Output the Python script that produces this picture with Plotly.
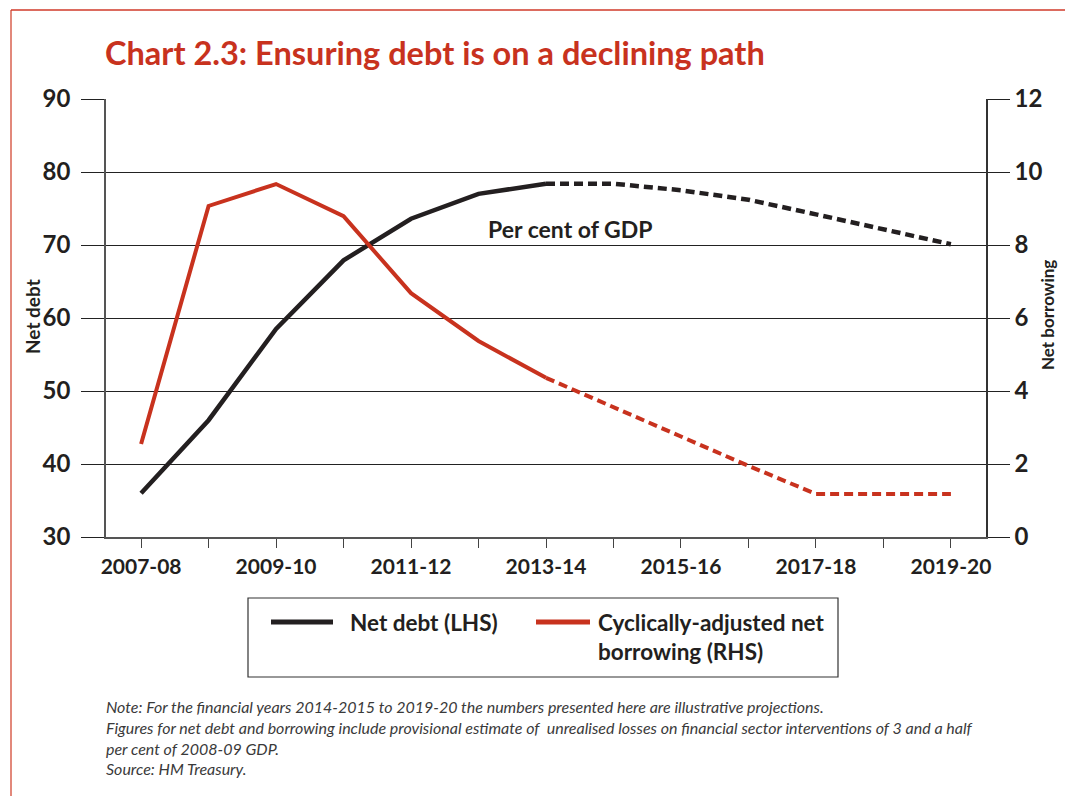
import plotly.graph_objects as go

# ---------------- data ----------------
years = ["2007-08", "2008-09", "2009-10", "2010-11", "2011-12", "2012-13", "2013-14",
         "2014-15", "2015-16", "2016-17", "2017-18", "2018-19", "2019-20"]
net_debt = [36.0, 46.0, 58.5, 67.9, 73.6, 77.0, 78.4, 78.4, 77.5, 76.2, 74.2, 72.2, 70.1]
net_borrowing = [2.55, 9.07, 9.67, 8.79, 6.68, 5.37, 4.36, 3.55, 2.75, 1.95, 1.18, 1.18, 1.18]
proj_start = 6  # projections (dashed) start after 2013-14
tick_labels = [y if i % 2 == 0 else "" for i, y in enumerate(years)]
left_ticks = [30, 40, 50, 60, 70, 80, 90]
right_ticks = [0, 2, 4, 6, 8, 10, 12]

BLACK = "#231f20"
RED = "#c8321e"
FONT = "Lato"

fig = go.Figure()
fig.add_trace(go.Scatter(x=years[:proj_start + 1], y=net_debt[:proj_start + 1], mode="lines",
                         line=dict(color=BLACK, width=4.5), showlegend=False))
fig.add_trace(go.Scatter(x=years[proj_start:], y=net_debt[proj_start:], mode="lines",
                         line=dict(color=BLACK, width=4.5, dash="9px,5px"), showlegend=False))
fig.add_trace(go.Scatter(x=years[:proj_start + 1], y=net_borrowing[:proj_start + 1], mode="lines",
                         line=dict(color=RED, width=4), showlegend=False, yaxis="y2"))
fig.add_trace(go.Scatter(x=years[proj_start:], y=net_borrowing[proj_start:], mode="lines",
                         line=dict(color=RED, width=4, dash="9px,5px"), showlegend=False, yaxis="y2"))

L, R, T, B = 106, 79, 99, 259
W, H = 1065, 796
PW, PH = W - L - R, H - T - B


def px(x):
    return (x - L) / PW


def py(y):
    return (H - B - y) / PH


fig.update_layout(
    width=W, height=H,
    margin=dict(l=L, r=R, t=T, b=B),
    paper_bgcolor="white", plot_bgcolor="white",
    font=dict(family=FONT, color=BLACK),
    xaxis=dict(type="category", range=[-0.52, 12.52], tickmode="array", tickvals=years,
               ticktext=tick_labels, ticks="outside", ticklen=9, tickwidth=1.2, tickcolor="#444",
               showline=True, linecolor="#555", linewidth=1.5, showgrid=False, zeroline=False,
               tickfont=dict(family=FONT, size=21, weight=700, color=BLACK), ticklabelstandoff=1),
    yaxis=dict(range=[30, 90], tickmode="array", tickvals=left_ticks, ticks="outside", ticklen=23,
               tickwidth=1.2, tickcolor="#222", showline=True, linecolor="#555", linewidth=1.5,
               showgrid=True, gridcolor="#222", gridwidth=1, zeroline=False,
               tickfont=dict(family=FONT, size=24, weight=700, color=BLACK), ticklabelstandoff=6),
    yaxis2=dict(range=[0, 12], tickmode="array", tickvals=right_ticks, overlaying="y", side="right",
                ticks="outside", ticklen=22, tickwidth=1.2, tickcolor="#222", showline=True,
                linecolor="#333", linewidth=1.5, showgrid=False, zeroline=False,
                tickfont=dict(family=FONT, size=24, weight=700, color=BLACK), ticklabelstandoff=0),
)

shapes = []
# outer red frame (left and top edges)
shapes.append(dict(type="line", xref="paper", yref="paper", x0=px(11), x1=px(11), y0=py(10), y1=py(800),
                   line=dict(color="#d9604f", width=1.5)))
shapes.append(dict(type="line", xref="paper", yref="paper", x0=px(11), x1=px(1070), y0=py(10), y1=py(10),
                   line=dict(color="#d03a2a", width=1.5)))
# legend box
shapes.append(dict(type="rect", xref="paper", yref="paper", x0=px(248), x1=px(838), y0=py(677), y1=py(598),
                   line=dict(color="#333", width=1.2), fillcolor="rgba(0,0,0,0)"))
shapes.append(dict(type="line", xref="paper", yref="paper", x0=px(271), x1=px(333), y0=py(622), y1=py(622),
                   line=dict(color=BLACK, width=5)))
shapes.append(dict(type="line", xref="paper", yref="paper", x0=px(536), x1=px(590), y0=py(622), y1=py(622),
                   line=dict(color=RED, width=5)))

annotations = []
annotations.append(dict(xref="paper", yref="paper", x=px(103), y=py(53), xanchor="left", yanchor="middle",
                        text="Chart 2.3: Ensuring debt is on a declining path", showarrow=False,
                        font=dict(family=FONT, size=32.5, weight=700, color=RED)))
annotations.append(dict(xref="paper", yref="paper", x=px(570), y=py(229), xanchor="center", yanchor="middle",
                        text="Per cent of GDP", showarrow=False,
                        font=dict(family=FONT, size=23, weight=700, color=BLACK)))
annotations.append(dict(xref="paper", yref="paper", x=px(32), y=py(317), xanchor="center", yanchor="middle",
                        text="Net debt", textangle=-90, showarrow=False,
                        font=dict(family=FONT, size=19, weight=700, color=BLACK)))
annotations.append(dict(xref="paper", yref="paper", x=px(1047), y=py(315), xanchor="center", yanchor="middle",
                        text="Net borrowing", textangle=-90, showarrow=False,
                        font=dict(family=FONT, size=17, weight=700, color=BLACK)))
annotations.append(dict(xref="paper", yref="paper", x=px(348), y=py(622), xanchor="left", yanchor="middle",
                        text="Net debt (LHS)", showarrow=False,
                        font=dict(family=FONT, size=22.5, weight=700, color=BLACK)))
annotations.append(dict(xref="paper", yref="paper", x=px(596), y=py(637), xanchor="left", yanchor="middle",
                        text="Cyclically-adjusted net<br>borrowing (RHS)", align="left", showarrow=False,
                        font=dict(family=FONT, size=22.5, weight=700, color=BLACK)))
annotations.append(dict(xref="paper", yref="paper", x=px(104), y=py(695), xanchor="left", yanchor="top",
                        text=("Note: For the financial years 2014-2015 to 2019-20 the numbers presented here are illustrative projections.<br>"
                              "Figures for net debt and borrowing include provisional estimate of  unrealised losses on financial sector interventions of 3 and a half<br>"
                              "per cent of 2008-09 GDP.<br>"
                              "Source: HM Treasury."),
                        align="left", showarrow=False,
                        font=dict(family=FONT, size=16, style="italic", color="#3a3a3a")))

fig.update_layout(shapes=shapes, annotations=annotations)
fig.write_html("out.html", config={"displayModeBar": False},
               post_script="document.body.style.margin='0';document.body.style.padding='0';")
